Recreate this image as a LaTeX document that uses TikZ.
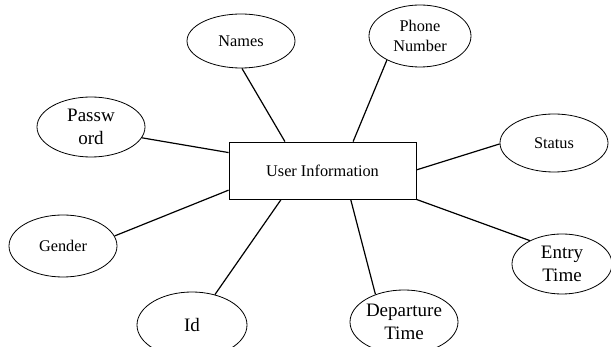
\documentclass[tikz,border=0pt]{standalone}
\usepackage{fontspec}
\setmainfont{Liberation Serif}
\usetikzlibrary{shapes.geometric,calc}

\begin{document}
\begin{tikzpicture}[x=1pt,y=-1pt,
  attr/.style={ellipse,draw,line width=0.8pt,inner sep=0pt,align=center},
  entity/.style={rectangle,draw,line width=0.8pt,inner sep=0pt},
  small/.style={font=\fontsize{16.3}{19.5}\selectfont},
  big/.style={font=\fontsize{19}{23.5}\selectfont},
  link/.style={line width=1.2pt}]
\useasboundingbox (0,0) rectangle (611,347);

% central entity
\node[entity,small,minimum width=187pt,minimum height=57pt] (ui) at (322.5,170.5) {User Information};

% attributes
\node[attr,small,minimum width=108pt,minimum height=54pt] (names)  at (241,41)  {Names};
\node[attr,small,minimum width=102pt,minimum height=62pt] (phone)  at (420,36)  {Phone\\Number};
\node[attr,big,minimum width=108pt,minimum height=60pt]   (pass)   at (91,127)  {Passw\\ord};
\node[attr,small,minimum width=108pt,minimum height=58pt] (status) at (554,143) {Status};
\node[attr,small,minimum width=108pt,minimum height=62pt] (gender) at (63,246)  {Gender};
\node[attr,big,minimum width=100pt,minimum height=60pt]   (entry)  at (562,264) {Entry\\Time};
\node[attr,big,minimum width=110pt,minimum height=66pt]   (id)     at (192,325) {Id};
\node[attr,big,minimum width=108pt,minimum height=64pt]   (dep)    at (404,322) {Departure\\Time};

% attachment points on the entity box
\coordinate (uN1) at ($(ui.north west)!0.30!(ui.north east)$);
\coordinate (uN2) at ($(ui.north west)!0.663!(ui.north east)$);
\coordinate (uW1) at ($(ui.north west)!0.19!(ui.south west)$);
\coordinate (uW2) at ($(ui.north west)!0.84!(ui.south west)$);
\coordinate (uE1) at ($(ui.north east)!0.49!(ui.south east)$);
\coordinate (uS1) at ($(ui.south west)!0.28!(ui.south east)$);
\coordinate (uS2) at ($(ui.south west)!0.65!(ui.south east)$);

% connectors
\draw[link] (names.-88)  -- (uN1);
\draw[link] (phone.-144) -- (uN2);
\draw[link] (pass.-12)   -- (uW1);
\draw[link] (gender.11)  -- (uW2);
\draw[link] (status.181) -- (uE1);
\draw[link] (entry.144)  -- (ui.south east);
\draw[link] (id.53)      -- (uS1);
\draw[link] (dep.136)    -- (uS2);
\end{tikzpicture}
\end{document}
